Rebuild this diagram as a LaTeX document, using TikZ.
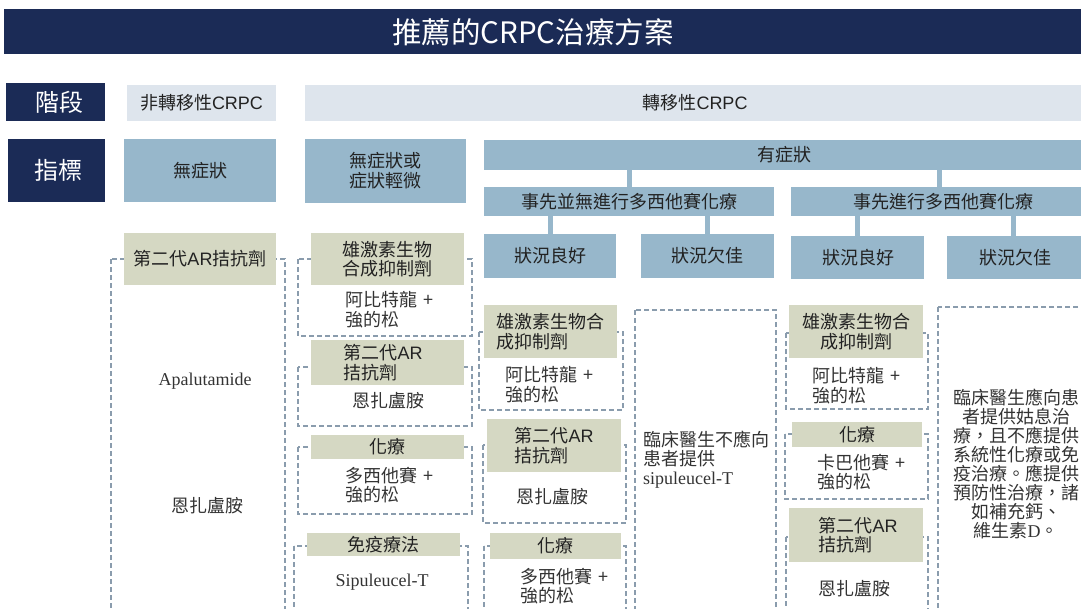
\documentclass[tikz,border=0pt]{standalone}
\usepackage{fontspec}
\newfontfamily\cjk{Noto Sans CJK TC}
\newfontfamily\ser{Liberation Serif}
\newfontfamily\lsans{Liberation Sans}
\definecolor{navy}{HTML}{1B2B56}
\definecolor{pale}{HTML}{DEE5ED}
\definecolor{mblue}{HTML}{97B7CB}
\definecolor{olive}{HTML}{D5D8C3}
\definecolor{dashc}{HTML}{8A9CAD}
\definecolor{ink}{HTML}{222222}
\definecolor{bodyc}{HTML}{333333}
\newcommand\cbox[7]{%
  \node[#1, anchor=north west, minimum width={#5-#3}, minimum height={#6-#4}] (#2) at (#3,#4) {#7};}
\newcommand\LA[1]{{\lsans #1}}
\begin{document}
\begin{tikzpicture}[x=1pt,y=-1pt,
  basebox/.style={inner sep=0pt, outer sep=0pt, draw=none, align=center},
  navybox/.style={basebox, fill=navy, text=white, font=\cjk\fontsize{24}{25}\selectfont},
  palebox/.style={basebox, fill=pale, text=ink, font=\cjk\fontsize{18}{20}\selectfont},
  bluebox/.style={basebox, fill=mblue, text=ink, font=\cjk\fontsize{18}{20}\selectfont},
  labbox/.style={basebox, fill=olive, text=ink, font=\cjk\fontsize{18}{19.5}\selectfont},
  labboxl/.style={labbox, align=left},
  bodytxt/.style={inner sep=0pt, text=bodyc, font=\cjk\fontsize{18}{19}\selectfont},
  bodyl/.style={bodytxt, anchor=west, align=left},
  dframe/.style={draw=dashc, line width=1.3pt, dash pattern=on 5pt off 3pt},
  conn/.style={draw=mblue, line width=5pt}]
\useasboundingbox (0,0) rectangle (1081,608);
\clip (0,0) rectangle (1081,608);

% title
\cbox{basebox, fill=navy}{title}{4}{9}{1085}{54}{}
\node[inner sep=0pt, text=white, font=\cjk\fontsize{29.5}{32}\selectfont] (titletxt) at (533,32) {推薦的CRPC治療方案};

% header rows
\cbox{navybox}{stage}{6}{83}{105}{121}{\hspace{8pt}階段}
\cbox{palebox}{nonmet}{127}{85}{276}{121}{非轉移性\LA{CRPC}}
\cbox{palebox}{met}{305}{85}{1085}{121}{轉移性\LA{CRPC}}
\cbox{navybox}{indic}{8}{139}{105}{202}{\hspace{5pt}指標}
\cbox{bluebox}{asym}{124}{139}{276}{202}{無症狀}
\cbox{bluebox}{mild}{305}{139}{466}{203}{無症狀或\\症狀輕微}
\cbox{bluebox}{sym}{484}{140}{1085}{170}{有症狀}
\cbox{bluebox}{pre1}{484}{187}{774}{216}{事先並無進行多西他賽化療}
\cbox{bluebox}{pre2}{791}{187}{1085}{216}{\hspace{10pt}事先進行多西他賽化療}
\cbox{bluebox}{good1}{484}{234}{616}{278}{狀況良好}
\cbox{bluebox}{poor1}{641}{234}{774}{278}{狀況欠佳}
\cbox{bluebox}{good2}{791}{236}{924}{279}{\hspace{2pt}狀況良好}
\cbox{bluebox}{poor2}{947}{236}{1085}{279}{\hspace{-2pt}狀況欠佳}

% connectors
\draw[conn] (pre1.north) -- (pre1.north |- sym.south);
\draw[conn] ([xshift=1pt]pre2.north) -- ([xshift=1pt]pre2.north |- sym.south);
\draw[conn] (good1.north) -- (good1.north |- pre1.south);
\draw[conn] (poor1.north) -- (poor1.north |- pre1.south);
\draw[conn] (good2.north) -- (good2.north |- pre2.south);
\draw[conn] ([xshift=-3pt]poor2.north) -- ([xshift=-3pt]poor2.north |- pre2.south);

% dashed frames
\draw[dframe] (111,259) rectangle (285,620);
\draw[dframe] (298,259) rectangle (472,336);
\draw[dframe] (298,367) rectangle (472,426);
\draw[dframe] (298,447) rectangle (472,514);
\draw[dframe] (294,546) rectangle (468,620);
\draw[dframe] (479,332) rectangle (623,410);
\draw[dframe] (483,445) rectangle (626,523);
\draw[dframe] (484,546) rectangle (626,620);
\draw[dframe] (635,310) rectangle (776,620);
\draw[dframe] (786,333) rectangle (928,409);
\draw[dframe] (785,434) rectangle (928,499);
\draw[dframe] (786,537) rectangle (928,620);
\draw[dframe] (938,307) rectangle (1095,620);

% column 1
\cbox{labbox}{l1}{124}{233}{276}{285}{第二代\LA{AR}拮抗劑}
\node[bodytxt, font=\ser\fontsize{18}{20}\selectfont] (apa) at (205,381) {Apalutamide};
\node[bodytxt] (enz1) at (207,506) {恩扎盧胺};

% column 2
\cbox{labbox}{l21}{311}{233}{464}{285}{雄激素生物\\合成抑制劑}
\node[bodyl, font=\cjk\fontsize{18}{20}\selectfont] (b21) at (345,310) {阿比特龍\,\,+\\強的松};
\cbox{labboxl}{l22}{311}{340}{464}{385}{\hspace{-9pt}第二代\LA{AR}\\\hspace{-9pt}拮抗劑}
\node[bodytxt] (b22) at (388,401) {恩扎盧胺};
\cbox{labbox}{l23}{311}{435}{464}{459}{化療}
\node[bodyl, font=\cjk\fontsize{18}{18.5}\selectfont] (b23) at (345,485) {多西他賽\,\,+\\強的松};
\cbox{labbox}{l24}{307}{533}{460}{556}{免疫療法}
\node[bodytxt, font=\ser\fontsize{18}{20}\selectfont] (b24) at (382,582) {Sipuleucel-T};

% column 3
\cbox{labboxl}{l31}{484}{305}{617}{358}{雄激素生物合\\成抑制劑}
\node[bodyl, font=\cjk\fontsize{18}{20}\selectfont] (b31) at (505,385) {阿比特龍\,\,+\\強的松};
\cbox{labboxl}{l32}{487}{419}{621}{472}{第二代\LA{AR}\\拮抗劑}
\node[bodytxt] (b32) at (552,497) {恩扎盧胺};
\cbox{labbox}{l33}{490}{533}{621}{559}{化療}
\node[bodyl] (b33) at (520,586) {多西他賽\,\,+\\強的松};

% column 4
\node[bodyl] (b4) at (643,460) {臨床醫生不應向\\患者提供\\{\ser sipuleucel-T}};

% column 5
\cbox{labbox}{l51}{789}{305}{923}{358}{雄激素生物合\\成抑制劑}
\node[bodyl, font=\cjk\fontsize{18}{20}\selectfont] (b51) at (812,386) {阿比特龍\,\,+\\強的松};
\cbox{labbox}{l52}{792}{422}{922}{447}{化療}
\node[bodyl, font=\cjk\fontsize{18}{18.5}\selectfont] (b52) at (817,472) {卡巴他賽\,\,+\\強的松};
\cbox{labboxl}{l53}{789}{508}{923}{562}{\hspace{4pt}第二代\LA{AR}\\\hspace{4pt}拮抗劑}
\node[bodytxt] (b53) at (854,589) {恩扎盧胺};

% column 6
\node[bodytxt, align=center] (b6) at (1016,464) {臨床醫生應向患\\者提供姑息治\\療，且不應提供\\系統性化療或免\\疫治療。應提供\\預防性治療，諸\\如補充鈣、\\維生素{\ser D}。};
\end{tikzpicture}
\end{document}
